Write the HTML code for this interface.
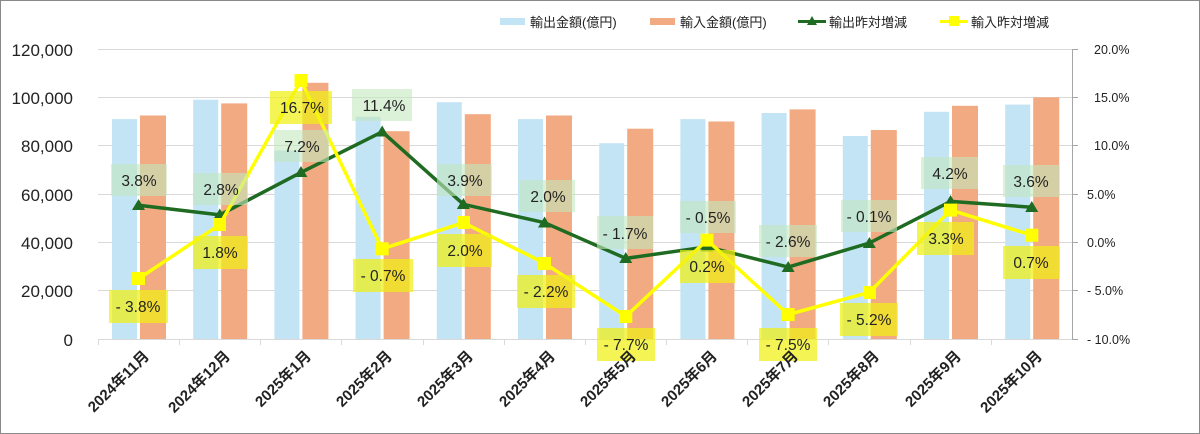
<!DOCTYPE html>
<html><head><meta charset="utf-8"><style>
body{margin:0;background:#fff}
svg{display:block}
text{font-family:"Liberation Sans","Noto Sans CJK JP",sans-serif;fill:#222}
</style></head><body>
<svg width="1200" height="434" viewBox="0 0 1200 434">
<rect x="0.5" y="0.5" width="1199" height="433" fill="#fff" stroke="#8a8a8a"/>
<g stroke="#d9d9d9" stroke-width="1">
<line x1="98" y1="49.5" x2="1072" y2="49.5"/>
<line x1="98" y1="97.5" x2="1072" y2="97.5"/>
<line x1="98" y1="145.5" x2="1072" y2="145.5"/>
<line x1="98" y1="194.5" x2="1072" y2="194.5"/>
<line x1="98" y1="242.5" x2="1072" y2="242.5"/>
<line x1="98" y1="290.5" x2="1072" y2="290.5"/>
<line x1="98" y1="339.5" x2="1072" y2="339.5"/>
<line x1="98.5" y1="339" x2="98.5" y2="345"/><line x1="179.5" y1="339" x2="179.5" y2="345"/><line x1="260.5" y1="339" x2="260.5" y2="345"/><line x1="341.5" y1="339" x2="341.5" y2="345"/><line x1="423.5" y1="339" x2="423.5" y2="345"/><line x1="504.5" y1="339" x2="504.5" y2="345"/><line x1="585.5" y1="339" x2="585.5" y2="345"/><line x1="666.5" y1="339" x2="666.5" y2="345"/><line x1="747.5" y1="339" x2="747.5" y2="345"/><line x1="828.5" y1="339" x2="828.5" y2="345"/><line x1="910.5" y1="339" x2="910.5" y2="345"/><line x1="991.5" y1="339" x2="991.5" y2="345"/>
</g>
<g stroke="#a6a6a6"><line x1="1072.5" y1="49" x2="1072.5" y2="340"/>
<line x1="1072" y1="49.5" x2="1078" y2="49.5"/><line x1="1072" y1="97.5" x2="1078" y2="97.5"/><line x1="1072" y1="145.5" x2="1078" y2="145.5"/><line x1="1072" y1="194.5" x2="1078" y2="194.5"/><line x1="1072" y1="242.5" x2="1078" y2="242.5"/><line x1="1072" y1="290.5" x2="1078" y2="290.5"/><line x1="1072" y1="339.5" x2="1078" y2="339.5"/></g>
<g font-size="17" text-anchor="end">
<text x="73" y="56">120,000</text><text x="73" y="104">100,000</text><text x="73" y="152">80,000</text><text x="73" y="201">60,000</text><text x="73" y="249">40,000</text><text x="73" y="297">20,000</text><text x="73" y="346">0</text>
</g>
<g font-size="12.5">
<text x="1094" y="54">20.0%</text><text x="1094" y="102">15.0%</text><text x="1094" y="150">10.0%</text><text x="1087" y="199">5.0%</text><text x="1087" y="247">0.0%</text><text x="1087" y="295">- 5.0%</text><text x="1087" y="344">- 10.0%</text>
</g>
<g fill="#c3e4f4">
<rect x="112" y="119.1" width="25" height="219.9"/><rect x="193.2" y="99.7" width="25" height="239.3"/><rect x="274.4" y="150.5" width="25" height="188.5"/><rect x="355.6" y="116.7" width="25" height="222.3"/><rect x="436.8" y="102.2" width="25" height="236.8"/><rect x="518" y="119.1" width="25" height="219.9"/><rect x="599.2" y="143.2" width="25" height="195.8"/><rect x="680.4" y="119.1" width="25" height="219.9"/><rect x="761.6" y="113" width="25" height="226"/><rect x="842.8" y="136" width="25" height="203"/><rect x="924" y="111.8" width="25" height="227.2"/><rect x="1005.2" y="104.6" width="25" height="234.4"/>
</g>
<g fill="#f1aa82">
<rect x="140" y="115.5" width="26" height="223.5"/><rect x="221.2" y="103.4" width="26" height="235.6"/><rect x="302.4" y="82.8" width="26" height="256.2"/><rect x="383.6" y="131.2" width="26" height="207.8"/><rect x="464.8" y="114.2" width="26" height="224.8"/><rect x="546" y="115.5" width="26" height="223.5"/><rect x="627.2" y="128.7" width="26" height="210.3"/><rect x="708.4" y="121.5" width="26" height="217.5"/><rect x="789.6" y="109.4" width="26" height="229.6"/><rect x="870.8" y="130" width="26" height="209"/><rect x="952" y="105.8" width="26" height="233.2"/><rect x="1033.2" y="97.3" width="26" height="241.7"/>
</g>
<polyline fill="none" stroke="#1f6b22" stroke-width="3.5" stroke-linejoin="round" points="138.6,205.3 219.8,214.9 301,172.4 382.2,131.8 463.4,204.3 544.6,222.7 625.8,258.4 707,246.8 788.2,267.1 869.4,243 950.6,201.4 1031.8,207.2"/>
<g fill="#1f6b22">
<polygon points="138.6,199 132,210 145,210"/><polygon points="219.8,208.5 213.2,219.5 226.2,219.5"/><polygon points="301,166 294.4,177 307.4,177"/><polygon points="382.2,125.5 375.6,136.5 388.6,136.5"/><polygon points="463.4,198 456.8,209 469.8,209"/><polygon points="544.6,216.5 538,227.5 551,227.5"/><polygon points="625.8,252 619.2,263 632.2,263"/><polygon points="707,240.5 700.4,251.5 713.4,251.5"/><polygon points="788.2,261 781.6,272 794.6,272"/><polygon points="869.4,237 862.8,248 875.8,248"/><polygon points="950.6,195 944,206 957,206"/><polygon points="1031.8,201 1025.2,212 1038.2,212"/>
</g>
<polyline fill="none" stroke="#ffff00" stroke-width="3.5" stroke-linejoin="round" points="138.6,278.7 219.8,224.6 301,80.6 382.2,248.8 463.4,222.7 544.6,263.3 625.8,316.4 707,240.1 788.2,314.5 869.4,292.3 950.6,210.1 1031.8,235.2"/>
<g fill="#ffff00">
<rect x="132" y="272" width="13" height="13"/><rect x="213" y="218" width="13" height="13"/><rect x="294.5" y="74" width="13" height="13"/><rect x="375.7" y="242.3" width="13" height="13"/><rect x="457" y="216" width="13" height="13"/><rect x="538" y="257" width="13" height="13"/><rect x="619.3" y="310" width="13" height="13"/><rect x="700.5" y="233.6" width="13" height="13"/><rect x="781.7" y="308" width="13" height="13"/><rect x="863" y="286" width="13" height="13"/><rect x="944" y="203.6" width="13" height="13"/><rect x="1025.3" y="228.7" width="13" height="13"/>
</g>
<g fill="rgba(195,232,190,0.6)">
<rect x="111" y="164" width="56" height="32"/><rect x="193" y="173" width="55" height="32"/><rect x="274" y="130" width="55" height="32"/><rect x="352" y="89" width="60" height="32"/><rect x="437" y="164" width="55" height="32"/><rect x="520" y="180" width="55" height="32"/><rect x="597" y="216" width="56" height="33"/><rect x="680" y="201" width="56" height="32"/><rect x="759" y="225" width="58" height="32"/><rect x="841" y="200" width="56" height="32"/><rect x="921" y="157" width="57" height="32"/><rect x="1003" y="165" width="57" height="32"/>
</g>
<g fill="rgba(240,240,20,0.72)">
<rect x="109" y="290" width="59" height="33"/><rect x="193" y="236" width="55" height="33"/><rect x="270" y="91" width="62" height="33"/><rect x="353" y="259" width="60" height="33"/><rect x="437" y="234" width="55" height="33"/><rect x="517" y="275" width="58" height="33"/><rect x="597" y="328" width="58" height="33"/><rect x="680" y="250" width="55" height="33"/><rect x="759" y="328" width="58" height="33"/><rect x="840" y="303" width="58" height="33"/><rect x="917" y="222" width="57" height="33"/><rect x="1003" y="246" width="57" height="33"/>
</g>
<g font-size="15.5" text-anchor="middle">
<text x="139" y="186">3.8%</text><text x="221" y="195">2.8%</text><text x="302" y="152">7.2%</text><text x="384" y="111">11.4%</text><text x="465" y="186">3.9%</text><text x="548" y="202">2.0%</text><text x="625" y="239">- 1.7%</text><text x="708" y="223">- 0.5%</text><text x="788" y="247">- 2.6%</text><text x="869" y="222">- 0.1%</text><text x="950" y="179">4.2%</text><text x="1031" y="187">3.6%</text>
<text x="138" y="312">- 3.8%</text><text x="220" y="258">1.8%</text><text x="302" y="113">16.7%</text><text x="383" y="281">- 0.7%</text><text x="465" y="256">2.0%</text><text x="546" y="297">- 2.2%</text><text x="626" y="350">- 7.7%</text><text x="707" y="272">0.2%</text><text x="788" y="350">- 7.5%</text><text x="869" y="325">- 5.2%</text><text x="946" y="244">3.3%</text><text x="1031" y="268">0.7%</text>
</g>
<g font-size="15" font-weight="bold" text-anchor="end">
<text transform="translate(150,357) rotate(-45)">2024年11月</text>
<text transform="translate(231,357) rotate(-45)">2024年12月</text>
<text transform="translate(312,357) rotate(-45)">2025年1月</text>
<text transform="translate(393,357) rotate(-45)">2025年2月</text>
<text transform="translate(474,357) rotate(-45)">2025年3月</text>
<text transform="translate(556,357) rotate(-45)">2025年4月</text>
<text transform="translate(637,357) rotate(-45)">2025年5月</text>
<text transform="translate(718,357) rotate(-45)">2025年6月</text>
<text transform="translate(799,357) rotate(-45)">2025年7月</text>
<text transform="translate(880,357) rotate(-45)">2025年8月</text>
<text transform="translate(962,357) rotate(-45)">2025年9月</text>
<text transform="translate(1043,357) rotate(-45)">2025年10月</text>
</g>
<rect x="500" y="18" width="25" height="7" fill="#c3e4f4"/>
<rect x="650" y="18" width="25" height="7" fill="#f1aa82"/>
<line x1="798" y1="21.5" x2="826" y2="21.5" stroke="#1f6b22" stroke-width="3"/>
<polygon points="812,16 807,25 817,25" fill="#1f6b22"/>
<line x1="940" y1="21.5" x2="968" y2="21.5" stroke="#ffff00" stroke-width="3"/>
<rect x="949" y="16" width="10" height="10" fill="#ffff00"/>
<g font-size="13">
<text x="530" y="27">輸出金額(億円)</text><text x="680" y="27">輸入金額(億円)</text><text x="829" y="27">輸出昨対増減</text><text x="971" y="27">輸入昨対増減</text>
</g>
</svg>
</body></html>
